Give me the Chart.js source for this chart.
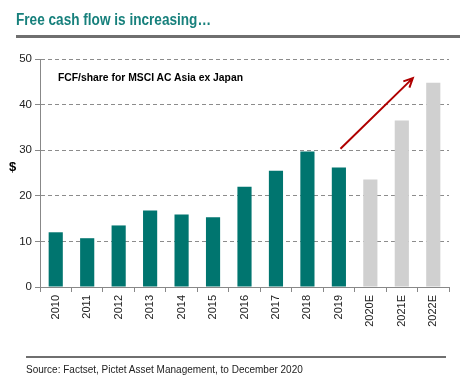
<!DOCTYPE html>
<html>
<head>
<meta charset="utf-8">
<script src="https://cdn.jsdelivr.net/npm/chart.js@4"></script>
<style>
  body { margin: 0; background: #fff; font-family: "Liberation Sans", Arial, sans-serif; }
  #wrap { position: relative; width: 471px; height: 387px; }
  canvas { position: absolute; left: 0; top: 0; }
  .titulo { position: absolute; left: 16px; top: 11px; font-size: 16px; font-weight: bold; color: #17807c; transform: scaleX(0.85); transform-origin: left top; white-space: nowrap; }
  .barra { position: absolute; left: 16px; top: 35px; width: 444px; height: 3px; background: #6f6f6f; }
  .sub { position: absolute; left: 58px; top: 71px; font-size: 11.5px; font-weight: bold; color: #000; transform: scaleX(0.9); transform-origin: left top; white-space: nowrap; }
  .dolar { position: absolute; left: 9px; top: 159px; font-size: 13px; font-weight: bold; color: #000; }
  .linea { position: absolute; left: 26px; top: 356px; width: 420px; height: 2px; background: #6f6f6f; }
  .fuente { position: absolute; left: 26px; top: 364px; font-size: 10px; color: #222; }
</style>
</head>
<body>
<div id="wrap">
  <canvas id="myChart" width="471" height="387"></canvas>
  <div class="titulo">Free cash flow is increasing…</div>
  <div class="barra"></div>
  <div class="sub">FCF/share for MSCI AC Asia ex Japan</div>
  <div class="dolar">$</div>
  <div class="linea"></div>
  <div class="fuente">Source: Factset, Pictet Asset Management, to December 2020</div>
</div>
<script>
const anios = ["2010", "2011", "2012", "2013", "2014", "2015", "2016", "2017", "2018", "2019", "2020E", "2021E", "2022E"];
const fcf = [12.0, 10.7, 13.5, 16.8, 15.9, 15.3, 22.0, 25.5, 29.7, 26.2, 23.6, 36.5, 44.8];
const esEstimado = [false, false, false, false, false, false, false, false, false, false, true, true, true];
// flecha en coordenadas de datos: [indice categoria, valor]
const flechaDesde = [9.05, 30.3];
const flechaHasta = [11.35, 45.8];

const colores = esEstimado.map((e) => e ? "#d0d0d0" : "#00756f");

const pluginFlecha = {
    id: "flecha",
    afterDatasetsDraw(chart) {
        const x = chart.scales.x, y = chart.scales.y;
        const x1 = x.getPixelForValue(flechaDesde[0]), y1 = y.getPixelForValue(flechaDesde[1]);
        const x2 = x.getPixelForValue(flechaHasta[0]), y2 = y.getPixelForValue(flechaHasta[1]);
        const ctx = chart.ctx;
        const ang = Math.atan2(y2 - y1, x2 - x1);
        ctx.save();
        ctx.strokeStyle = "#b00000";
        ctx.lineWidth = 2;
        ctx.beginPath();
        ctx.moveTo(x1, y1);
        ctx.lineTo(x2, y2);
        ctx.moveTo(x2 - 10 * Math.cos(ang - 0.45), y2 - 10 * Math.sin(ang - 0.45));
        ctx.lineTo(x2, y2);
        ctx.lineTo(x2 - 10 * Math.cos(ang + 0.45), y2 - 10 * Math.sin(ang + 0.45));
        ctx.stroke();
        ctx.restore();
    }
};

const config = {
    type: "bar",
    data: {
        labels: anios,
        datasets: [{
            data: fcf,
            backgroundColor: colores,
            categoryPercentage: 1,
            barPercentage: 0.45
        }]
    },
    options: {
        responsive: false,
        animation: false,
        layout: { padding: { top: 59, right: 22, left: 0, bottom: 40 } },
        plugins: { legend: { display: false }, tooltip: { enabled: false } },
        scales: {
            x: {
                afterFit: (s) => { s.height = 60; },
                grid: { drawOnChartArea: false, drawTicks: true, tickLength: 5, color: "#888", offset: true },
                border: { color: "#888", width: 1 },
                ticks: { minRotation: 90, maxRotation: 90, color: "#222", font: { family: "Liberation Sans", size: 11 }, padding: 3 }
            },
            y: {
                min: 0,
                max: 50,
                afterFit: (s) => { s.width = 40; },
                ticks: { stepSize: 10, color: "#222", font: { family: "Liberation Sans", size: 11.5 }, padding: 3 },
                grid: { color: "#8c8c8c", tickBorderDash: [0, 0], tickColor: "#888", tickLength: 5 },
                border: { color: "#888", width: 1, dash: [4, 3] }
            }
        }
    },
    plugins: [pluginFlecha]
};

new Chart(document.getElementById("myChart"), config);
</script>
</body>
</html>
